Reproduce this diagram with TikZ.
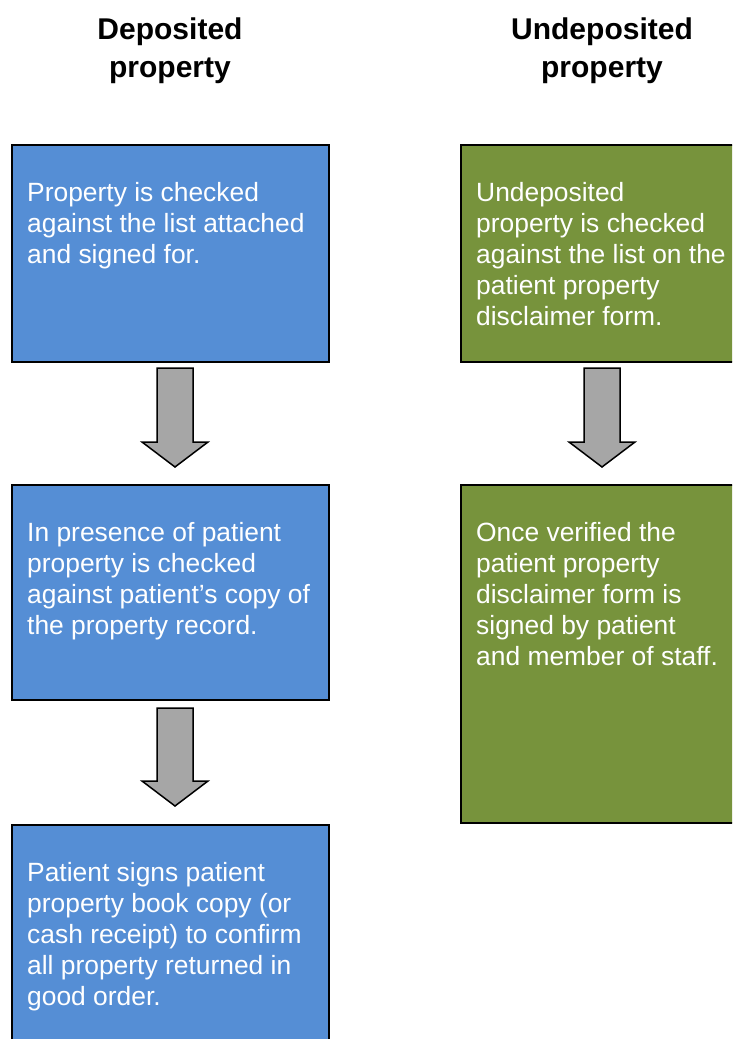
\documentclass[tikz,border=0pt]{standalone}
\usepackage{fontspec}
\setmainfont{Liberation Sans}
\definecolor{boxblue}{RGB}{85,142,213}
\definecolor{boxgreen}{RGB}{119,147,60}
\definecolor{arrgrey}{RGB}{166,166,166}
\begin{document}
\begin{tikzpicture}[x=1pt,y=-1pt,
  stepbox/.style={draw=black,line width=2pt,inner sep=0pt,outer sep=0pt,rectangle},
  bluebox/.style={stepbox,fill=boxblue},
  greenbox/.style={stepbox,fill=boxgreen},
  boxtext/.style={anchor=base west,inner sep=0pt,align=left,text=white,font=\fontsize{26.4}{31}\selectfont},
  headtext/.style={anchor=base,inner sep=0pt,align=center,font=\fontsize{30}{38}\selectfont\bfseries},
  blockarrow/.style={draw=black,line width=1.5pt,fill=arrgrey,line join=miter}
]
\useasboundingbox (0,0) rectangle (732,1039);
\clip (0,0) rectangle (732,1039);
\fill[white] (0,0) rectangle (732,1039);

% titles (anchor is the baseline of the last line)
\node[headtext] (h1) at (170,77) {Deposited\\property};
\node[headtext] (h2) at (602,77) {Undeposited\\property};

% left column
\node[bluebox,minimum width=317pt,minimum height=217pt] (b1) at (170.5,253.5) {};
\node[bluebox,minimum width=317pt,minimum height=215pt] (b2) at (170.5,592.5) {};
\node[bluebox,minimum width=317pt,minimum height=225pt] (b3) at (170.5,937.5) {};
\node[boxtext] (t1) at (27,263) {Property is checked\\against the list attached\\and signed for.};
\node[boxtext] (t2) at (27,634) {In presence of patient\\property is checked\\against patient’s copy of\\the property record.};
\node[boxtext] (t3) at (27,1005) {Patient signs patient\\property book copy (or\\cash receipt) to confirm\\all property returned in\\good order.};

% right column
\node[greenbox,minimum width=299pt,minimum height=217pt] (g1) at (610.5,253.5) {};
\node[greenbox,minimum width=299pt,minimum height=338pt] (g2) at (610.5,654) {};
\node[boxtext] (u1) at (476,325) {Undeposited\\property is checked\\against the list on the\\patient property\\disclaimer form.};
\node[boxtext] (u2) at (476,665) {Once verified the\\patient property\\disclaimer form is\\signed by patient\\and member of staff.};

% block arrows
\draw[blockarrow] (157,368) -- (193,368) -- (193,442) -- (208,442) -- (175,467) -- (142,442) -- (157,442) -- cycle;
\draw[blockarrow] (157,708) -- (193,708) -- (193,781) -- (208,781) -- (175,806) -- (142,781) -- (157,781) -- cycle;
\draw[blockarrow] (584,368) -- (620,368) -- (620,442) -- (635,442) -- (602,467) -- (569,442) -- (584,442) -- cycle;
\end{tikzpicture}
\end{document}
